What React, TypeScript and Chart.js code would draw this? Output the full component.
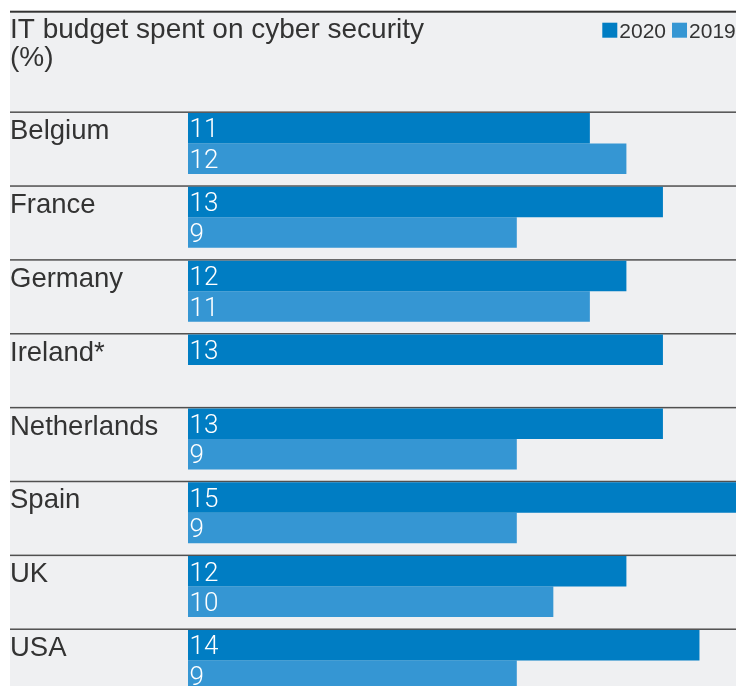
import React, { useEffect, useRef } from 'react';
import { Chart, registerables } from 'chart.js';

Chart.register(...registerables);

const countries = ['Belgium', 'France', 'Germany', 'Ireland*', 'Netherlands', 'Spain', 'UK', 'USA'];
const values2020: (number | null)[] = [11, 13, 12, 13, 13, 15, 12, 14];
const values2019: (number | null)[] = [12, 9, 11, null, 9, 9, 10, 9];
const seriesLabels = ['2020', '2019'];
const seriesColors = ['#007dc3', '#3596d3'];
const xMin = 0;
const xMax = 15;
const titleLines = ['IT budget spent on cyber security', '(%)'];

const W = 736;
const H = 704;
const TEXT = '#333333';
const BG = '#eff0f2';
const SANS = '"Liberation Sans", Arial, Helvetica, sans-serif';

const decorPlugin = {
  id: 'decor',
  beforeDraw(chart: any) {
    const ctx = chart.ctx;
    ctx.save();
    ctx.fillStyle = '#ffffff';
    ctx.fillRect(0, 0, W, H);
    ctx.fillStyle = BG;
    ctx.fillRect(10, 12, W - 10, H - 12);
    // top rule
    ctx.fillStyle = '#333333';
    ctx.fillRect(10, 10.7, W - 10, 2);
    // title
    ctx.fillStyle = TEXT;
    ctx.font = `28px ${SANS}`;
    ctx.textBaseline = 'alphabetic';
    ctx.textAlign = 'left';
    ctx.fillText(titleLines[0], 10, 38);
    ctx.fillText(titleLines[1], 10, 66);
    // legend
    ctx.font = `21px ${SANS}`;
    let lx = 602.3;
    seriesLabels.forEach((lab, i) => {
      ctx.fillStyle = seriesColors[i];
      ctx.fillRect(lx, 22.7, 15, 15);
      ctx.fillStyle = TEXT;
      ctx.fillText(lab, lx + 17, 37.5);
      lx += 17 + ctx.measureText(lab).width + 6;
    });
    // category rules and labels
    const yScale = chart.scales.y;
    ctx.font = `27.5px ${SANS}`;
    countries.forEach((c, i) => {
      const cy = yScale.getPixelForValue(i);
      ctx.fillStyle = '#505050';
      ctx.fillRect(10, cy - 32, W - 10, 1.5);
      ctx.fillStyle = TEXT;
      ctx.fillText(c, 10, cy - 4.3);
    });
    ctx.restore();
  },
  afterDatasetsDraw(chart: any) {
    const ctx = chart.ctx;
    ctx.save();
    ctx.fillStyle = '#ffffff';
    ctx.font = `300 26px Roboto, ${SANS}`;
    ctx.textBaseline = 'alphabetic';
    ctx.textAlign = 'left';
    chart.data.datasets.forEach((ds: any, di: number) => {
      const meta = chart.getDatasetMeta(di);
      meta.data.forEach((el: any, i: number) => {
        const v = ds.data[i];
        if (v === null || v === undefined) return;
        ctx.fillText(String(v), chart.chartArea.left + 1.5, el.y + 9.2);
      });
    });
    ctx.restore();
  },
};

export default function App() {
  const ref = useRef<HTMLCanvasElement>(null);
  useEffect(() => {
    if (!ref.current) return;
    const chart = new Chart(ref.current, {
      type: 'bar',
      data: {
        labels: countries,
        datasets: [
          {
            label: seriesLabels[0],
            data: values2020,
            backgroundColor: seriesColors[0],
            borderWidth: 0,
            barPercentage: 1,
            categoryPercentage: 61 / 73.86,
          },
          {
            label: seriesLabels[1],
            data: values2019,
            backgroundColor: seriesColors[1],
            borderWidth: 0,
            barPercentage: 1,
            categoryPercentage: 61 / 73.86,
          },
        ],
      },
      options: {
        indexAxis: 'y',
        responsive: false,
        animation: false,
        devicePixelRatio: 1,
        layout: { padding: { left: 188, right: 0, top: 106.5, bottom: 6.6 } },
        scales: {
          x: { type: 'linear', min: xMin, max: xMax, display: false },
          y: { type: 'category', display: false, offset: true },
        },
        plugins: {
          legend: { display: false },
          title: { display: false },
          tooltip: { enabled: false },
        },
      },
      plugins: [decorPlugin],
    });
    return () => chart.destroy();
  }, []);
  return (
    <div style={{ position: 'absolute', left: 0, top: 0, width: W, height: 686, overflow: 'hidden', background: '#fff' }}>
      <canvas ref={ref} width={W} height={H} style={{ display: 'block', width: W, height: H }} />
    </div>
  );
}
